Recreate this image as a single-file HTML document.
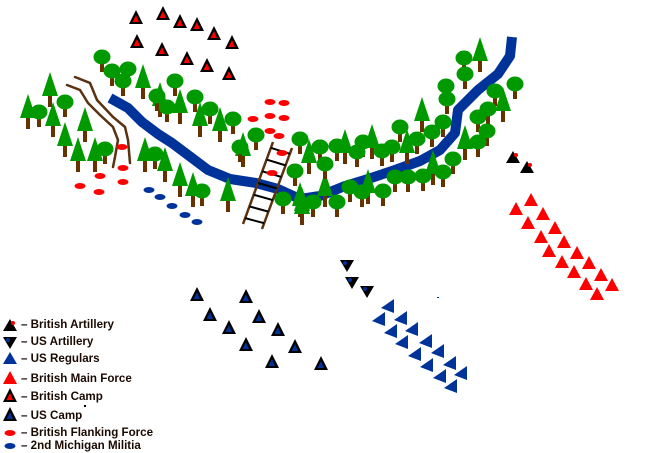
<!DOCTYPE html>
<html><head><meta charset="utf-8"><style>
html,body{margin:0;padding:0;background:#fff;width:654px;height:453px;overflow:hidden}
svg{position:absolute;left:0;top:0}
.lg{position:absolute;left:21px;font:bold 11.6px "Liberation Sans",sans-serif;color:#1a0a00;white-space:nowrap;line-height:12px}
</style></head><body>
<svg id="s" width="654" height="453" viewBox="0 0 654 453">
<g fill="none" stroke="#5a3210" stroke-width="2.5" stroke-linecap="round">
<polyline points="75,77 90,83 97,100 113,117 125,127 128,140 130,163"/>
<polyline points="67,85 80,90 88,103 100,115 113,127 118,140 115,157 113,167"/>
</g>
<polyline fill="none" stroke="#003399" stroke-width="10" stroke-linejoin="round" points="110,98 128,108 142,122 158,134 172,143 188,155 208,170 230,179 256,183 278,189 300,199 320,196 345,186 368,179 395,170 420,161 440,150 455,133 458,110 478,90 498,74 510,56 512,37"/>
<g id="g"></g>
</svg>
<div class="lg" style="top:319px">– British Artillery</div>
<div class="lg" style="top:336px">– US Artillery</div>
<div class="lg" style="top:353px">– US Regulars</div>
<div class="lg" style="top:373px">– British Main Force</div>
<div class="lg" style="top:391px">– British Camp</div>
<div class="lg" style="top:410px">– US Camp</div>
<div class="lg" style="top:427px">– British Flanking Force</div>
<div class="lg" style="top:440px">– 2nd Michigan Militia</div>
<script>
var g=document.getElementById('g'),h='';
function P(pts,f){h+='<polygon points="'+pts+'" fill="'+f+'"/>';}
var round=[[102,58],[112,72],[128,70],[123,82],[39,113],[65,103],[175,82],[195,98],[167,108],[210,110],[233,120],[256,136],[240,148],[300,140],[320,148],[295,172],[105,150],[155,155],[157,97],[202,192],[283,200],[313,203],
[464,59],[465,75],[446,87],[447,100],[515,85],[495,92],[488,110],[478,118],[487,132],[478,143],[443,123],[432,133],[417,140],[400,128],[392,148],[382,152],[363,143],[357,153],[337,147],[320,148],[325,165],[453,160],[443,173],[423,177],[408,178],[395,178],[383,192],[350,188],[362,193],[337,203]];
var pine=[[50,88],[28,110],[53,118],[85,123],[65,138],[78,153],[95,153],[143,80],[160,98],[180,105],[200,118],[220,123],[243,148],[145,153],[165,163],[180,178],[193,188],[228,193],[302,203],
[480,53],[422,113],[503,103],[372,140],[345,145],[309,155],[407,145],[465,141],[433,166],[368,185],[325,188],[300,198],[302,206]];
pine.forEach(function(p){var x=p[0],y=p[1];h+='<rect x="'+(x-2)+'" y="'+(y+6)+'" width="4" height="13" fill="#663300"/>';P(x+','+(y-16)+' '+(x-8)+','+(y+8)+' '+(x+8)+','+(y+8),'#009900');});
round.forEach(function(p){var x=p[0],y=p[1];h+='<rect x="'+(x-2)+'" y="'+y+'" width="4" height="14" fill="#663300"/><ellipse cx="'+x+'" cy="'+(y-1)+'" rx="8.5" ry="7.5" fill="#009900"/>';});
h+='<g stroke="#5a3210" stroke-width="2.5"><line x1="273" y1="142" x2="243" y2="224"/><line x1="292" y1="148" x2="262" y2="229"/></g><g stroke="#000" stroke-width="2">';
for(var i=0;i<7;i++){var t=(i+0.5)/7;var ax=273-30*t,ay=142+82*t,bx=292-30*t,by=148+81*t;h+='<line x1="'+ax+'" y1="'+ay+'" x2="'+bx+'" y2="'+by+'"/>';}
h+='</g>';
function camp(x,y,c){P(x+','+(y-8)+' '+(x-7)+','+(y+6)+' '+(x+7)+','+(y+6),'#000');P(x+','+(y-3)+' '+(x-3.5)+','+(y+4)+' '+(x+3)+','+(y+4),c);}
[[136,18],[163,14],[180,22],[197,25],[214,34],[232,43],[137,42],[162,50],[187,59],[207,66],[229,74]].forEach(function(p){camp(p[0],p[1],'#ff0000')});
[[197,295],[246,297],[210,315],[259,317],[229,328],[278,330],[246,345],[295,347],[272,362],[321,364]].forEach(function(p){camp(p[0],p[1],'#003399')});
function ov(x,y,c){h+='<ellipse cx="'+x+'" cy="'+y+'" rx="5.5" ry="3" fill="'+c+'"/>';}
[[270,102],[284,103],[270,116],[284,118],[253,119],[270,131],[279,136],[282,153],[272,173],[122,147],[123,168],[123,182],[100,176],[80,186],[99,192]].forEach(function(p){ov(p[0],p[1],'#ff0000')});
[[149,190],[160,197],[172,206],[185,215],[197,222]].forEach(function(p){ov(p[0],p[1],'#003399')});
function usart(x,y){P((x-7)+','+(y-5)+' '+(x+7)+','+(y-5)+' '+x+','+(y+7),'#000');h+='<circle cx="'+(x-2)+'" cy="'+(y-2)+'" r="2" fill="#003399"/>';}
[[347,265],[352,282],[367,291]].forEach(function(p){usart(p[0],p[1])});
[[388,307],[379,320],[401,319],[391,332],[412,330],[402,343],[426,342],[415,355],[438,352],[427,366],[450,364],[440,377],[461,374],[451,387]].forEach(function(p){var x=p[0],y=p[1];P((x+6)+','+(y-8)+' '+(x+6)+','+(y+6)+' '+(x-7)+','+(y+1),'#003399');});
[[531,200],[516,209],[543,214],[528,223],[555,228],[541,237],[564,242],[549,251],[577,253],[562,262],[589,263],[574,272],[601,275],[586,284],[612,285],[597,294]].forEach(function(p){var x=p[0],y=p[1];P(x+','+(y-7)+' '+(x-7)+','+(y+6)+' '+(x+7)+','+(y+6),'#ff0000');});
function bart(x,y){P(x+','+(y-7)+' '+(x-7)+','+(y+5)+' '+(x+7)+','+(y+5),'#000');h+='<circle cx="'+(x+3)+'" cy="'+(y-3)+'" r="2" fill="#ff0000"/>';}
bart(513,158);bart(527,168);
h+='<rect x="437" y="297" width="2" height="1" fill="#003399"/>';
bart(10,326);usart(10,342);
P('10,352 3,364 17,364','#003399');P('10,371 3,384 17,384','#ff0000');
camp(10,396,'#ff0000');camp(10,415,'#003399');
ov(10,433,'#ff0000');ov(10,446,'#003399');
h+='<rect x="84" y="405" width="2" height="2" fill="#000"/>';
g.innerHTML=h;
</script>
</body></html>
